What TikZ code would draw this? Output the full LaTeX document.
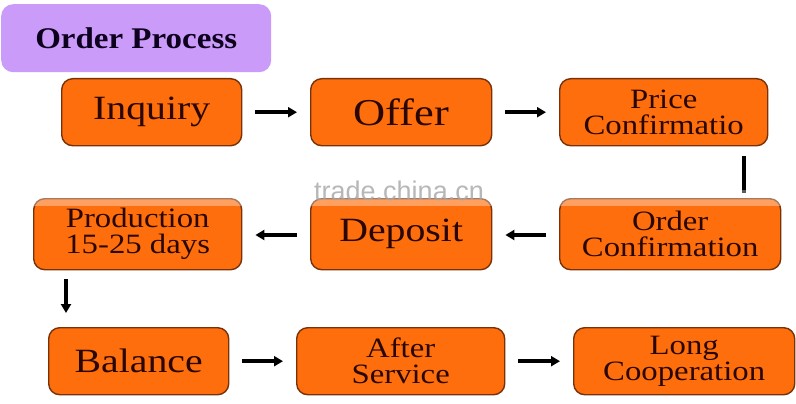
\documentclass[tikz,border=0pt]{standalone}
\usepackage{fontspec}
\setmainfont{Liberation Serif}[FakeStretch=1.17]
\newfontfamily\titlefont{Liberation Serif}[FakeStretch=1.1]
\newfontfamily\wmfont{Liberation Sans}
\usetikzlibrary{arrows.meta,calc}
\definecolor{boxfill}{RGB}{255,110,12}
\definecolor{boxline}{RGB}{120,50,10}
\definecolor{boxtext}{RGB}{40,8,0}
\definecolor{titlefill}{RGB}{203,155,250}
\definecolor{titletext}{RGB}{12,0,30}
\tikzset{
  stepbox/.style={draw=boxline, fill=boxfill, line width=1.4, rounded corners=11,
    text=boxtext, align=center, inner sep=0, anchor=north west},
  big/.style={font=\fontsize{34}{36}\selectfont},
  two/.style={font=\fontsize{28}{26}\selectfont},
  arr/.style={-{Triangle[length=9,width=10]}, line width=3.6, black,
    shorten <=13, shorten >=13},
}
\begin{document}
\begin{tikzpicture}[x=1pt,y=-1pt]
\useasboundingbox (0,0) rectangle (796,404);
\fill[white] (0,0) rectangle (796,404);
% title
\node[fill=titlefill, rounded corners=12, minimum width=270, minimum height=68,
  anchor=north west, inner sep=0, text=titletext,
  font=\titlefont\bfseries\fontsize{30}{32}\selectfont] (title) at (1,4) {Order Process};
% row 1
\node[stepbox, big, minimum width=180, minimum height=67] (inq) at (61,78) {Inquiry};
\node[stepbox, font=\fontsize{38}{40}\selectfont, minimum width=181, minimum height=67] (off) at (310,78) {Offer};
\node[stepbox, two, minimum width=208, minimum height=67] (price) at (559,78) {Price\\Confirmatio};
% row 2
\node[stepbox, two, minimum width=208, minimum height=71] (prod) at (33,198) {Production\\15-25 days};
\node[stepbox, big, minimum width=181, minimum height=71] (dep) at (310,198) {Deposit};
\node[stepbox, two, minimum width=221, minimum height=71] (ord) at (559,198) {Order\\Confirmation};
% row 3
\node[stepbox, big, minimum width=180, minimum height=67] (bal) at (48,327) {Balance};
\node[stepbox, two, minimum width=208, minimum height=67] (aft) at (296,327) {After\\Service};
\node[stepbox, two, minimum width=221, minimum height=67] (long) at (573,327) {Long\\Cooperation};
% connectors
\draw[arr] (inq) -- (off);
\draw[arr] (off) -- (price);
\coordinate (pend) at ($(price.south east)+(-24,47)$);
\draw[line width=4, black] ($(price.south east)+(-24,10)$) -- (pend);
\draw[arr] (ord.west |- 0,235) -- (dep.east |- 0,235);
\draw[arr] (dep.west |- 0,235) -- (prod.east |- 0,235);
\draw[arr, shorten <=9, shorten >=14] ($(prod.south west)+(33,0)$) -- ($(bal.north west)+(18,0)$);
\draw[arr] (bal) -- (aft);
\draw[arr] (aft) -- (long);
% watermark band and text
\fill[white, opacity=0.35] (30,190) rectangle (790,206);
\node[text=gray!70, opacity=0.8, font=\wmfont\fontsize{27}{28}\selectfont, inner sep=0] (wm) at (399,191) {trade.china.cn};
\end{tikzpicture}
\end{document}
